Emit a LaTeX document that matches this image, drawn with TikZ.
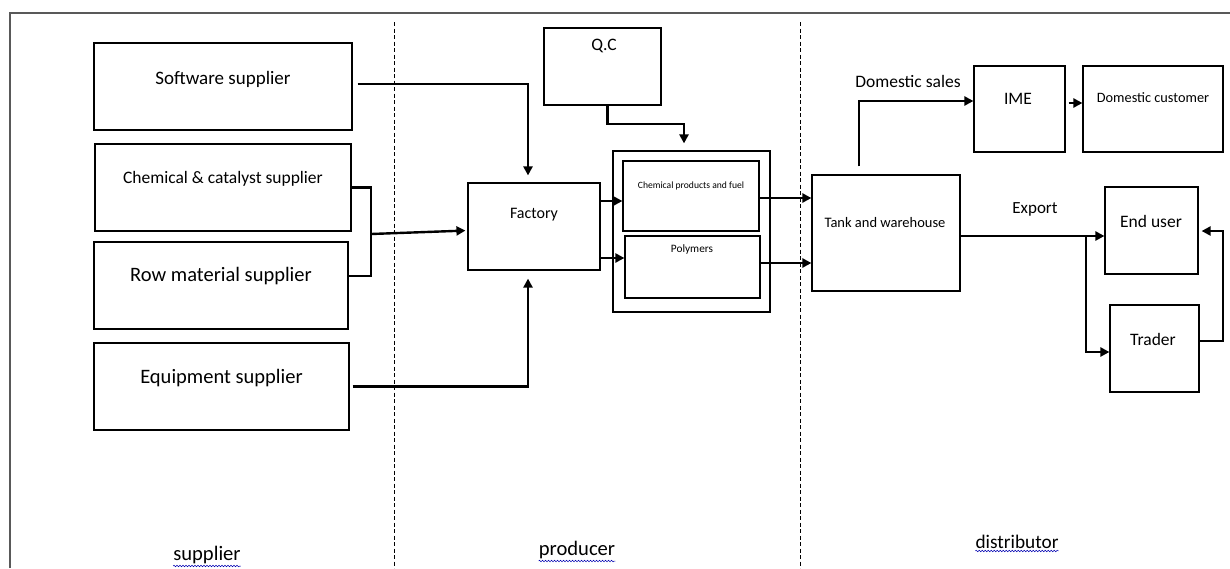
\documentclass[tikz,border=0pt]{standalone}
\usepackage{fontspec}
\setmainfont{Carlito}
\usetikzlibrary{arrows.meta,decorations.pathmorphing}
\begin{document}
\begin{tikzpicture}[x=1pt,y=-1pt,
  box/.style={draw, line width=1.2pt, inner sep=0pt},
  txt/.style={inner sep=0pt, font=\fontsize{#1}{#1}\selectfont},
  conn/.style={line width=2.4pt},
  arr/.style={line width=2.4pt, -{Triangle[length=9pt,width=9pt]}},
  sep/.style={line width=0.8pt, dash pattern=on 4pt off 2.5pt},
  wavy/.style={blue!70!black, line width=0.5pt, decorate, decoration={snake, amplitude=0.8pt, segment length=3pt}}
]
\useasboundingbox (0,0) rectangle (1230,568);
\fill[white] (0,0) rectangle (1230,568);
% frame
\draw[line width=1.6pt, black!65] (10,568) -- (10,13) -- (1230,13);
% separators
\draw[sep] (394,22) -- (394,568);
\draw[sep] (800,22) -- (800,568);

% supplier boxes
\node[box, minimum width=258pt, minimum height=87pt] (sw) at (223,86.5) {};
\node[txt=19] at (223,79) {Software supplier};
\node[box, minimum width=256pt, minimum height=87pt] (ch) at (223,187.5) {};
\node[txt=17.5] at (223,179) {Chemical \& catalyst supplier};
\node[box, minimum width=254pt, minimum height=87pt] (rw) at (221,285.5) {};
\node[txt=20.5] at (221,276) {Row material supplier};
\node[box, minimum width=255pt, minimum height=87pt] (eq) at (221.5,386.5) {};
\node[txt=20.5] at (221.5,378) {Equipment supplier};

% producer
\node[box, minimum width=132pt, minimum height=87pt] (fac) at (534,226.5) {};
\node[txt=16] at (534,215) {Factory};
\node[box, minimum width=117pt, minimum height=77pt] (qc) at (602.5,66.5) {};
\node[txt=17.5] at (604,46) {Q.C};
\node[box, minimum width=157pt, minimum height=161pt] (out) at (691.5,231.5) {};
\node[box, minimum width=136pt, minimum height=70pt] (cp) at (691,196) {};
\node[txt=9.6] at (691,186) {Chemical products and fuel};
\node[box, minimum width=135pt, minimum height=62pt] (pl) at (692.5,267) {};
\node[txt=11.3] at (692,249) {Polymers};

% distributor
\node[box, minimum width=148pt, minimum height=116pt] (tk) at (886,233) {};
\node[txt=14.5] at (885,223) {Tank and warehouse};
\node[box, minimum width=91pt, minimum height=86pt] (ime) at (1019.5,109) {};
\node[txt=17.5] at (1018,99) {IME};
\node[box, minimum width=140pt, minimum height=86pt] (dc) at (1153,109) {};
\node[txt=14.3] at (1153,98) {Domestic customer};
\node[box, minimum width=93pt, minimum height=87pt] (eu) at (1151.5,230.5) {};
\node[txt=17.5] at (1151,221) {End user};
\node[box, minimum width=89pt, minimum height=87pt] (tr) at (1154.5,348.5) {};
\node[txt=17.5] at (1153,339) {Trader};

% labels on connectors
\node[txt=17.5] (dsl) at (908,81) {Domestic sales};
\node[txt=17] (exl) at (1035,209) {Export};

% section labels
\node[txt=20.6] (lsup) at (207,555) {supplier};
\node[txt=20.6] (lpro) at (577,550) {producer};
\node[txt=19.3] (ldis) at (1017,542) {distributor};
\draw[wavy] ([yshift=-2pt]lsup.south west) -- ([yshift=-2pt]lsup.south east);
\draw[wavy] ([yshift=-2pt]lpro.south west) -- ([yshift=-2pt]lpro.south east);
\draw[wavy] ([yshift=-2pt]ldis.south west) -- ([yshift=-2pt]ldis.south east);

% connectors: suppliers -> factory
\draw[arr, shorten >=7pt] ([xshift=5pt,yshift=2.5pt]sw.east) -| ([xshift=-6pt]fac.north);
\coordinate (b1) at (371,187.5);
\coordinate (b2) at (371,276);
\coordinate (bm) at (371,234);
\draw[conn] (ch.east) -- (b1) -- (b2) -- (rw.east |- b2);
\draw[arr, shorten >=2pt] (bm) -- ([yshift=-4pt]fac.west);
\draw[arr, shorten >=8pt] ([xshift=3pt]eq.east) -| ([xshift=-6pt]fac.south);

% factory -> products
\coordinate (f1) at ([yshift=25.5pt]fac.east);
\coordinate (f2) at ([yshift=-31.5pt]fac.east);
\draw[arr] (f1) -- (cp.west |- f1);
\draw[arr] (f2) -- (pl.west |- f2);
% QC -> products
\coordinate (q1) at (684,124);
\draw[arr, shorten >=7pt] ([xshift=5pt]qc.south) |- (q1) -- (q1 |- out.north);
% products -> tank
\coordinate (c1) at ([yshift=-2pt]cp.east);
\coordinate (p1) at ([yshift=4pt]pl.east);
\draw[arr] (c1) -- (tk.west |- c1);
\draw[arr] (p1) -- (tk.west |- p1);

% tank -> IME -> domestic customer
\draw[arr] ([xshift=-27pt,yshift=8pt]tk.north) |- ([yshift=8pt]ime.west);
\draw[arr] ([xshift=3pt,yshift=6pt]ime.east) -- ([yshift=6pt]dc.west);

% export
\coordinate (ex) at (1086,236);
\draw[arr] ([yshift=-3pt]tk.east) -- ([yshift=-5.5pt]eu.west);
\draw[arr] (ex) |- ([yshift=-3.5pt]tr.west);
\coordinate (tq) at (1223,231);
\draw[arr, shorten >=3pt] ([yshift=7.5pt]tr.east) -| (tq) -- (eu.east |- tq);
\end{tikzpicture}
\end{document}
